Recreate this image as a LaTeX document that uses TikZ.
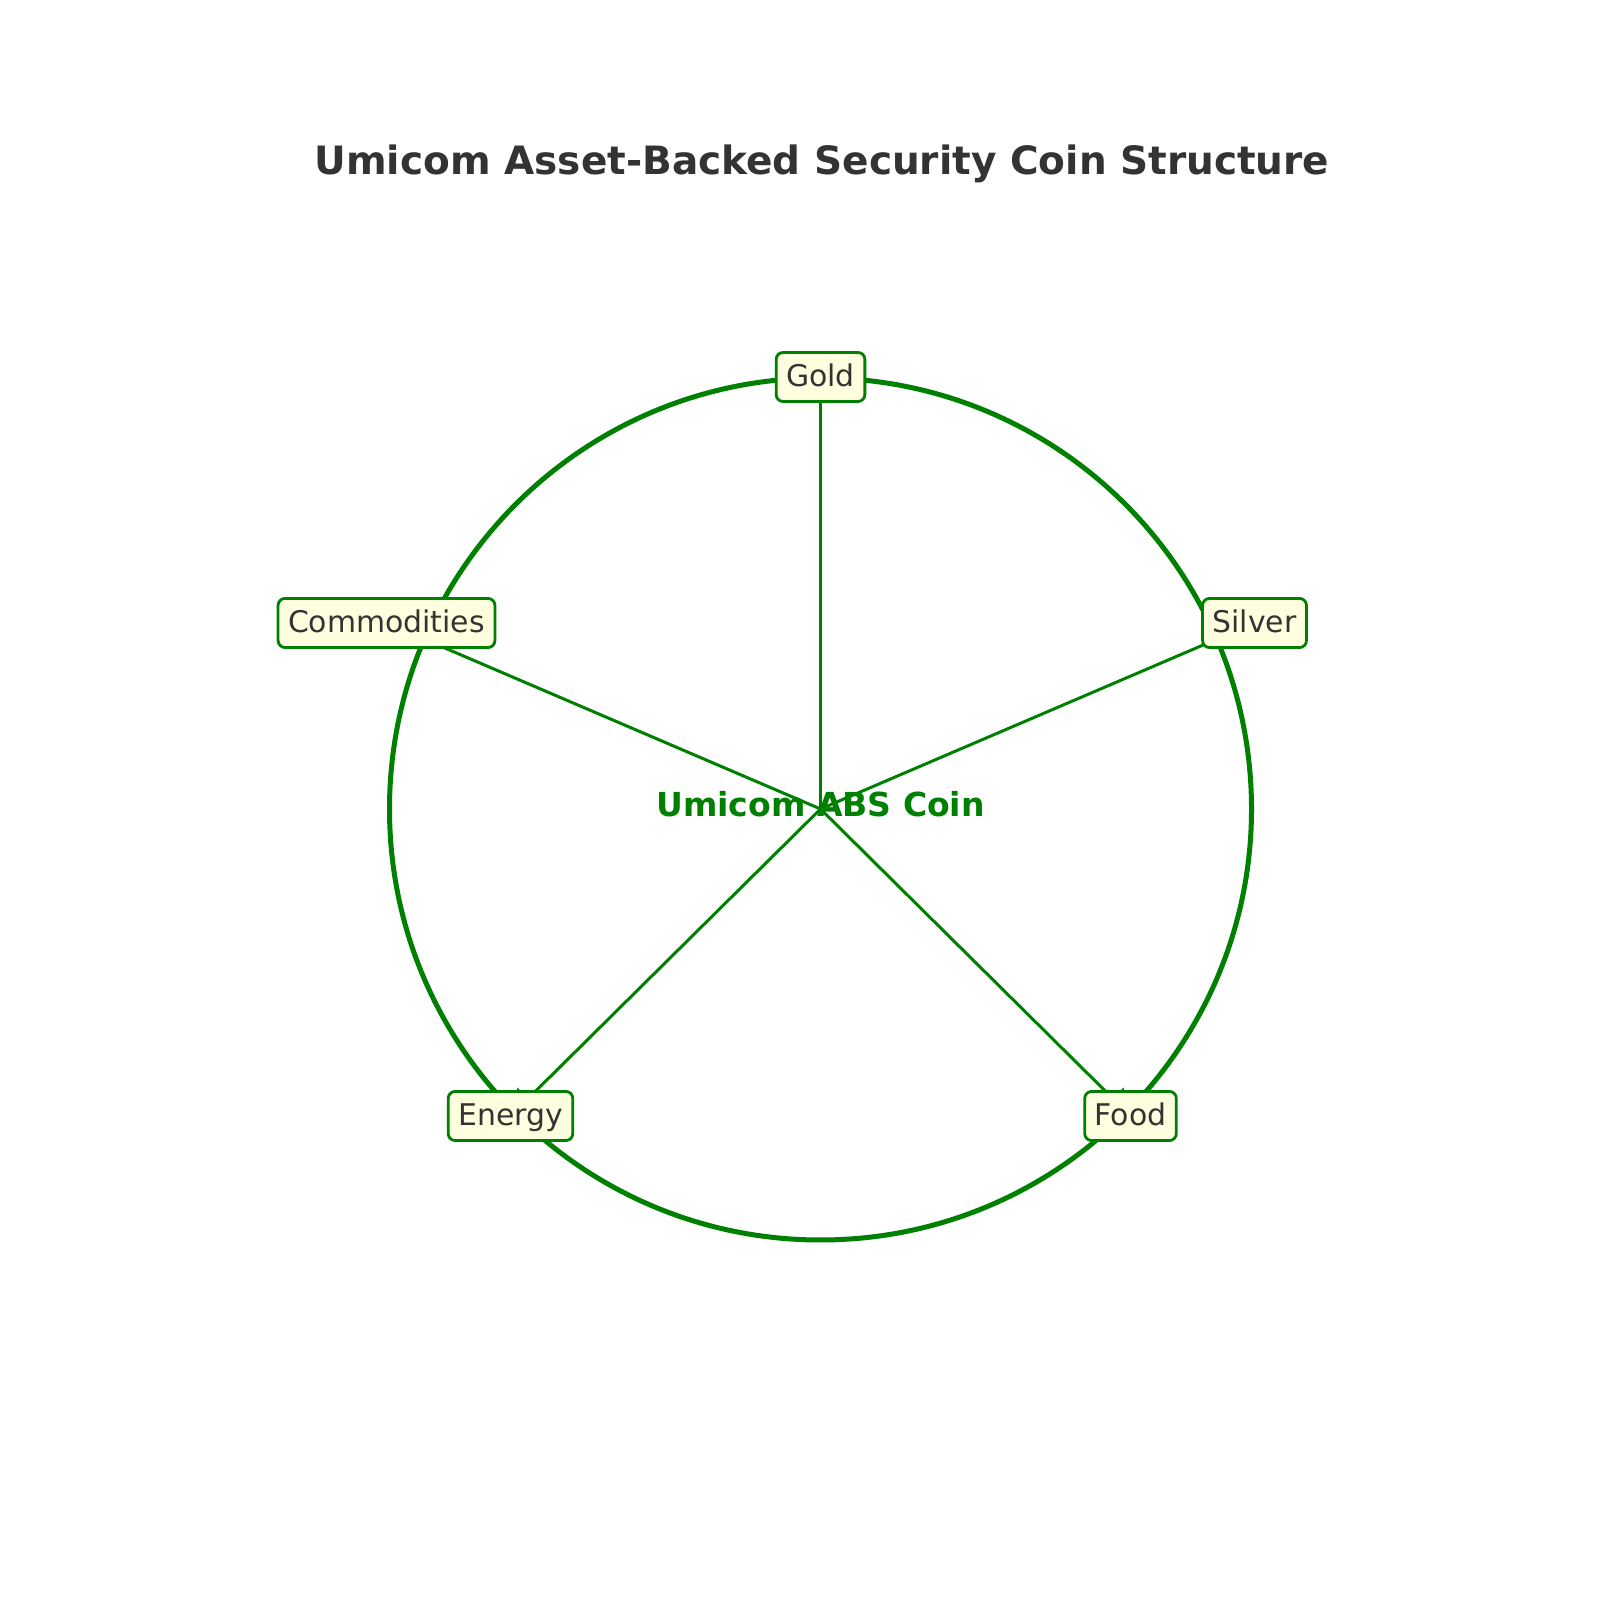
\documentclass[tikz,border=0pt]{standalone}
\usepackage{fontspec}
\setmainfont{DejaVu Sans}
\usetikzlibrary{arrows.meta,backgrounds}
\definecolor{coingreen}{HTML}{008000}
\definecolor{boxfill}{HTML}{FFFFE0}
\definecolor{inktext}{HTML}{333333}

\begin{document}
\begin{tikzpicture}[>={Triangle[length=2.5mm,width=3mm]},
                    asset/.style={draw=coingreen,fill=boxfill,text=inktext,
                      line width=0.28mm,rounded corners=0.7mm,
                      font=\fontsize{8.5}{10}\selectfont,
                      inner xsep=1mm,inner ysep=0.7mm,
                      text height=0.76em,text depth=0.24em},
                    spoke/.style={->,draw=coingreen,line width=0.3mm}]

  \useasboundingbox (0,0) rectangle (16,16);
  \node[anchor=base,text=inktext,font=\bfseries\fontsize{11.1}{13}\selectfont]
    (title) at (8.22,14.25) {Umicom Asset-Backed Security Coin Structure};

  \begin{scope}[shift={(8.205,7.91)}]
  \coordinate (hub) at (0,0);
  \node[asset] (gold)        at (0,4.32)      {Gold};
  \node[asset] (silver)      at (4.34,1.86)   {Silver};
  \node[asset] (food)        at (3.10,-3.07)  {Food};
  \node[asset] (energy)      at (-3.10,-3.07) {Energy};
  \node[asset] (commodities) at (-4.34,1.86)  {Commodities};

  \begin{scope}[on background layer]
  \draw[coingreen,line width=0.5mm] (hub) circle (4.31);
  \node[anchor=base,text=coingreen,font=\bfseries\fontsize{9.4}{11}\selectfont]
    (coin) at (0,-0.08) {Umicom ABS Coin};
  \path (hub) edge[spoke] (gold.center)
              edge[spoke] (silver.center)
              edge[spoke] (food.center)
              edge[spoke] (energy.center)
              edge[spoke] (commodities.center);
  \end{scope}
  \end{scope}
\end{tikzpicture}
\end{document}
